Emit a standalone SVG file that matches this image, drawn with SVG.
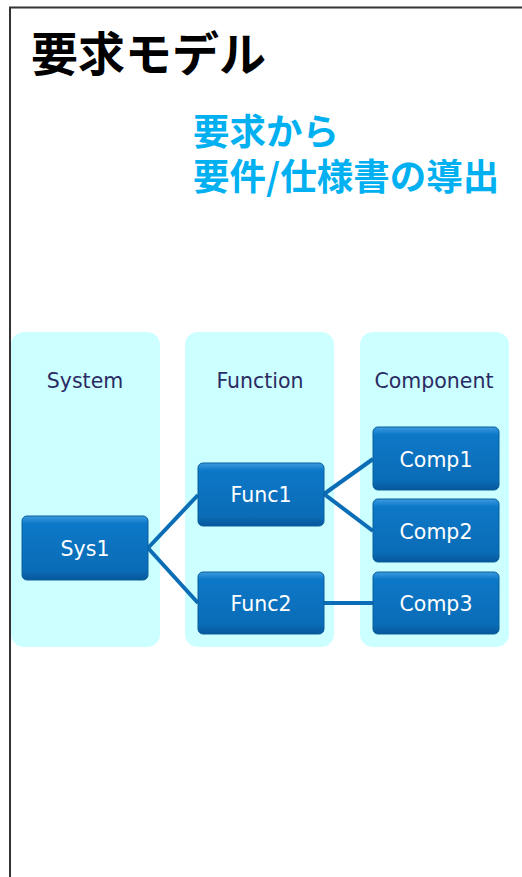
<svg xmlns="http://www.w3.org/2000/svg" width="522" height="877" viewBox="0 0 522 877">
  <style>
    .panel { fill: #ccffff; }
    .hdr { font-family: "DejaVu Sans", Verdana, sans-serif; font-size: 20.5px; fill: #2b2b63; text-anchor: middle; }
    .box { fill: url(#boxFill); stroke: #0a5e9e; stroke-width: 1; }
    .lbl { font-family: "DejaVu Sans", Verdana, sans-serif; font-size: 20.5px; fill: #ffffff; text-anchor: middle; }
    .link { stroke: #0b6db5; stroke-width: 4; fill: none; }
    .title { font-family: "Noto Sans CJK JP", sans-serif; font-weight: bold; font-size: 47px; fill: #000000; }
    .sub { font-family: "Noto Sans CJK JP", sans-serif; font-weight: bold; font-size: 36.5px; fill: #00b0f0; }
  </style>
  <defs>
    <linearGradient id="boxFill" x1="0" y1="0" x2="0" y2="1">
      <stop offset="0" stop-color="#3c9be0"/>
      <stop offset="0.12" stop-color="#0d78c8"/>
      <stop offset="0.85" stop-color="#0a6cb6"/>
      <stop offset="1" stop-color="#07569a"/>
    </linearGradient>
  </defs>
  <rect width="522" height="877" fill="#ffffff"/>
  <!-- outer frame -->
  <path d="M10,877 V7.5 H522" fill="none" stroke="#333333" stroke-width="2"/>

  <text class="title" x="31" y="71">要求モデル</text>
  <text class="sub" x="193" y="145">要求から</text>
  <text class="sub" x="193" y="190">要件/仕様書の導出</text>

  <!-- column panels -->
  <g id="col-system">
    <rect class="panel" x="11" y="332" width="149" height="315" rx="13"/>
    <text class="hdr" x="85" y="388">System</text>
  </g>
  <g id="col-function">
    <rect class="panel" x="185" y="332" width="149" height="315" rx="13"/>
    <text class="hdr" x="260" y="388">Function</text>
  </g>
  <g id="col-component">
    <rect class="panel" x="360" y="332" width="149" height="315" rx="13"/>
    <text class="hdr" x="434" y="388">Component</text>
  </g>

  <!-- connectors -->
  <g id="links">
    <path class="link" d="M148,548 L198,495"/>
    <path class="link" d="M148,548 L198,603"/>
    <path class="link" d="M324,494 L373,459"/>
    <path class="link" d="M324,494 L373,531"/>
    <path class="link" d="M324,603 L373,603"/>
  </g>

  <!-- nodes -->
  <g id="sys1">
    <rect class="box" x="22" y="516" width="126" height="64" rx="5"/>
    <text class="lbl" x="85" y="556">Sys1</text>
  </g>
  <g id="func1">
    <rect class="box" x="198" y="463" width="126" height="63" rx="5"/>
    <text class="lbl" x="261" y="502">Func1</text>
  </g>
  <g id="func2">
    <rect class="box" x="198" y="572" width="126" height="62" rx="5"/>
    <text class="lbl" x="261" y="611">Func2</text>
  </g>
  <g id="comp1">
    <rect class="box" x="373" y="427" width="126" height="63" rx="5"/>
    <text class="lbl" x="436" y="467">Comp1</text>
  </g>
  <g id="comp2">
    <rect class="box" x="373" y="499" width="126" height="63" rx="5"/>
    <text class="lbl" x="436" y="539">Comp2</text>
  </g>
  <g id="comp3">
    <rect class="box" x="373" y="572" width="126" height="62" rx="5"/>
    <text class="lbl" x="436" y="611">Comp3</text>
  </g>
</svg>
